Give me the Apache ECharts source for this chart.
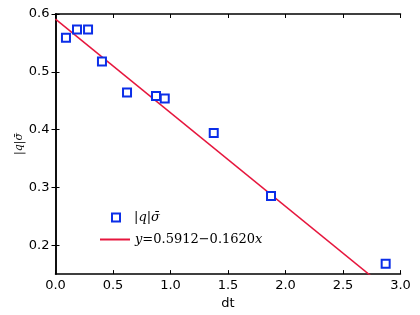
<!DOCTYPE html>
<html><head><meta charset="utf-8">
<script src="https://cdn.jsdelivr.net/npm/echarts@6/dist/echarts.min.js"></script>
<style>html,body{margin:0;padding:0;background:#fff}#c{width:420px;height:315px}</style>
</head><body><div id="c"></div>
<script>
const dtValues = [0.091, 0.187, 0.283, 0.404, 0.622, 0.874, 0.950, 1.376, 1.874, 2.871];
const qSigmaValues = [0.559, 0.573, 0.573, 0.518, 0.464, 0.458, 0.454, 0.394, 0.285, 0.168];
const fitX = [0, 3.0];
const fitY = [0.5912, 0.1052];
const xTicks = ['0.0','0.5','1.0','1.5','2.0','2.5','3.0'];
const yTicks = ['0.2','0.3','0.4','0.5','0.6'];
const yTickValues = yTicks.map(Number);

const scatterName = '|q|σ̄';
const lineName = 'fit';
const chart = echarts.init(document.getElementById('c'));
const axisLine = {show: true, lineStyle: {color: '#000', width: 1.5}};
const tickStyle = {color: '#000', width: 1};
chart.setOption({
  animation: false,
  grid: {left: 55.5, right: 19.5, top: 14, bottom: 36},
  xAxis: [
    {type: 'value', min: 0, max: 3.0, interval: 0.5, name: 'dt', nameLocation: 'middle', nameGap: 15,
      nameTextStyle: {fontFamily: 'DejaVu Sans', fontSize: 13, color: '#000'},
      axisLine, splitLine: {show: false},
      axisTick: {show: true, inside: true, length: 4, lineStyle: tickStyle},
      axisLabel: {fontFamily: 'DejaVu Sans', fontSize: 13, color: '#000', margin: 5,
        formatter: v => xTicks[Math.round(v / 0.5)]}},
    {type: 'value', position: 'top', min: 0, max: 3.0, interval: 0.5, axisLabel: {show: false},
      axisLine, splitLine: {show: false},
      axisTick: {show: true, inside: true, length: 4, lineStyle: tickStyle}}
  ],
  yAxis: [
    {type: 'value', min: 0.15, max: 0.6, name: scatterName, nameLocation: 'middle', nameGap: 31,
      nameMoveOverlap: false,
      nameTextStyle: {fontFamily: 'DejaVu Serif', fontStyle: 'italic', fontSize: 11, color: '#000'},
      axisLine, splitLine: {show: false},
      axisTick: {show: true, inside: true, length: 4, lineStyle: tickStyle, customValues: yTickValues},
      axisLabel: {fontFamily: 'DejaVu Sans', fontSize: 13, color: '#000', margin: 6,
        customValues: yTickValues, formatter: v => yTicks[yTickValues.indexOf(v)] ?? v.toFixed(1)}},
    {type: 'value', position: 'right', min: 0.15, max: 0.6, axisLabel: {show: false},
      axisLine, splitLine: {show: false},
      axisTick: {show: true, inside: true, length: 4, lineStyle: tickStyle, customValues: yTickValues}}
  ],
  legend: [
    {orient: 'vertical', left: 106, top: 206, itemWidth: 8, itemHeight: 8, data: [scatterName],
      textStyle: {fontFamily: 'DejaVu Serif', fontStyle: 'italic', fontSize: 13, color: '#000', padding: [0, 0, 0, 9]}},
    {orient: 'vertical', left: 95, top: 228, itemWidth: 30, itemHeight: 2,
      data: [{name: lineName, icon: 'rect', itemStyle: {color: '#e6163d'}}],
      formatter: () => '{i|y}{n|=0.5912−0.1620}{i|x}',
      textStyle: {fontSize: 13, color: '#000', rich: {
        i: {fontFamily: 'DejaVu Serif', fontStyle: 'italic', fontSize: 13, color: '#000'},
        n: {fontFamily: 'DejaVu Serif', fontSize: 13, color: '#000'}}}}
  ],
  series: [
    {name: scatterName, type: 'scatter', symbol: 'rect', symbolSize: 8,
      itemStyle: {color: '#fff', borderColor: '#0b2ee8', borderWidth: 2, opacity: 1},
      data: dtValues.map((x, i) => [x, qSigmaValues[i]]), z: 3},
    {name: lineName, type: 'line', symbol: 'none', clip: true,
      lineStyle: {color: '#e6163d', width: 1.5}, itemStyle: {color: '#e6163d'},
      data: fitX.map((x, i) => [x, fitY[i]]), z: 2}
  ]
});
</script></body></html>
